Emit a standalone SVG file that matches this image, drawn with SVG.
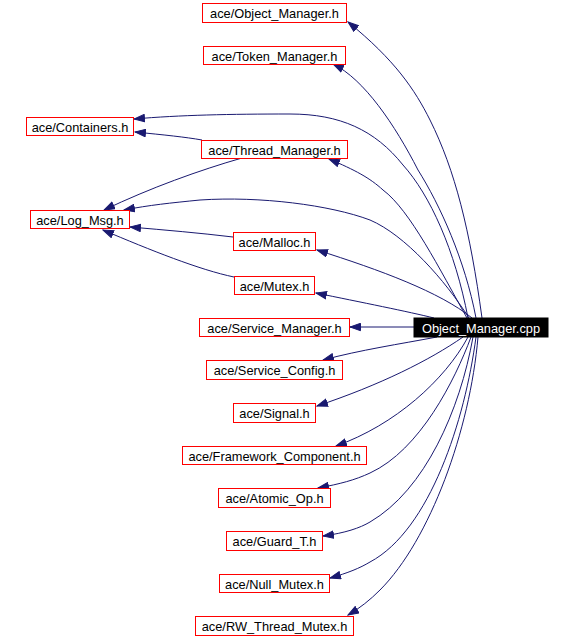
<svg xmlns="http://www.w3.org/2000/svg" width="572" height="638" viewBox="0 0 572 638">
<defs>
<style>
.n rect{fill:#fff;stroke:#ff0000;stroke-width:1}
.n text{font-family:"Liberation Sans",Arial,sans-serif;font-size:12.8px;fill:#000;text-anchor:middle}
.root rect{fill:#000;stroke:#000}
.root text{font-family:"Liberation Sans",Arial,sans-serif;font-size:12.8px;fill:#fff;text-anchor:middle}
.e path{fill:none;stroke:#191970;stroke-width:1;marker-end:url(#ah)}
</style>
<marker id="ah" markerUnits="userSpaceOnUse" markerWidth="12" markerHeight="9" viewBox="0 0 12 9" refX="11" refY="4.5" orient="auto">
<path d="M0.5,0.8 L11,4.5 L0.5,8.2 z" fill="#191970" stroke="#191970" stroke-width="1"/>
</marker>
</defs>
<rect width="572" height="638" fill="#fff"/>
<g id="connectors" class="e">
<path d="M482,318 C470,230 455,170 430,120 C415,90 395,60 348,22"/>
<path d="M476,318 C465,260 440,205 418,170 C395,125 364,79 333,64"/>
<path d="M468,318 C455,250 430,195 403,165 C375,130 340,114 290,114 C230,114 180,115 134,119"/>
<path d="M467,318 C440,270 410,210 383,190 C370,178 355,170 329,159"/>
<path d="M469,318 C445,280 405,235 370,220 C330,205 260,196 200,200 C170,203 150,205 124,210"/>
<path d="M472,318 C440,292 380,270 317,250"/>
<path d="M434,318 C410,312 360,302 316,293"/>
<path d="M414,327 L350,327"/>
<path d="M437,337 C400,344 360,350 323,360"/>
<path d="M463,337 C430,360 380,385 317,406"/>
<path d="M468,337 C445,380 395,425 336,446"/>
<path d="M471,337 C455,380 420,450 370,473 C355,480 340,484 318,488"/>
<path d="M473,337 C460,410 425,490 370,522 C360,528 345,533 323,536"/>
<path d="M476,337 C465,420 430,530 370,562 C360,568 348,573 330,578"/>
<path d="M478,337 C470,430 430,540 380,590 C370,600 360,608 348,615"/>
<path d="M202,140 C185,137 165,135 135,132"/>
<path d="M242,158 C200,170 150,188 104,210"/>
<path d="M233,237 C200,233 165,230 130,227"/>
<path d="M234,277 C200,270 150,250 103,230"/>
</g>
<g id="node-object-manager-h" class="n"><rect x="202.5" y="3.5" width="144" height="19"/><text x="274.5" y="18">ace/Object_Manager.h</text></g>
<g id="node-token-manager-h" class="n"><rect x="203.5" y="46.5" width="142" height="18"/><text x="274.5" y="60.5">ace/Token_Manager.h</text></g>
<g id="node-containers-h" class="n"><rect x="26.5" y="117.5" width="107" height="18"/><text x="80" y="131.5">ace/Containers.h</text></g>
<g id="node-thread-manager-h" class="n"><rect x="201.5" y="140.5" width="146" height="18"/><text x="274.5" y="154.5">ace/Thread_Manager.h</text></g>
<g id="node-log-msg-h" class="n"><rect x="30.5" y="210.5" width="99" height="18"/><text x="80" y="224.5">ace/Log_Msg.h</text></g>
<g id="node-malloc-h" class="n"><rect x="233.5" y="232.5" width="82" height="18"/><text x="274.5" y="246.5">ace/Malloc.h</text></g>
<g id="node-mutex-h" class="n"><rect x="234.5" y="276.5" width="80" height="18"/><text x="274.5" y="290.5">ace/Mutex.h</text></g>
<g id="node-service-manager-h" class="n"><rect x="199.5" y="318.5" width="150" height="18"/><text x="274.5" y="332.5">ace/Service_Manager.h</text></g>
<g id="node-object-manager-cpp" class="root"><rect x="414" y="318" width="134" height="19"/><text x="481" y="332.5">Object_Manager.cpp</text></g>
<g id="node-service-config-h" class="n"><rect x="206.5" y="360.5" width="136" height="19"/><text x="274.5" y="375">ace/Service_Config.h</text></g>
<g id="node-signal-h" class="n"><rect x="233.5" y="403.5" width="82" height="19"/><text x="274.5" y="418">ace/Signal.h</text></g>
<g id="node-framework-component-h" class="n"><rect x="182.5" y="446.5" width="184" height="18"/><text x="274.5" y="460.5">ace/Framework_Component.h</text></g>
<g id="node-atomic-op-h" class="n"><rect x="218.5" y="488.5" width="112" height="19"/><text x="274.5" y="503">ace/Atomic_Op.h</text></g>
<g id="node-guard-t-h" class="n"><rect x="226.5" y="531.5" width="96" height="19"/><text x="274.5" y="546">ace/Guard_T.h</text></g>
<g id="node-null-mutex-h" class="n"><rect x="219.5" y="574.5" width="110" height="18"/><text x="274.5" y="588.5">ace/Null_Mutex.h</text></g>
<g id="node-rw-thread-mutex-h" class="n"><rect x="195.5" y="616.5" width="158" height="19"/><text x="274.5" y="631">ace/RW_Thread_Mutex.h</text></g>
</svg>
